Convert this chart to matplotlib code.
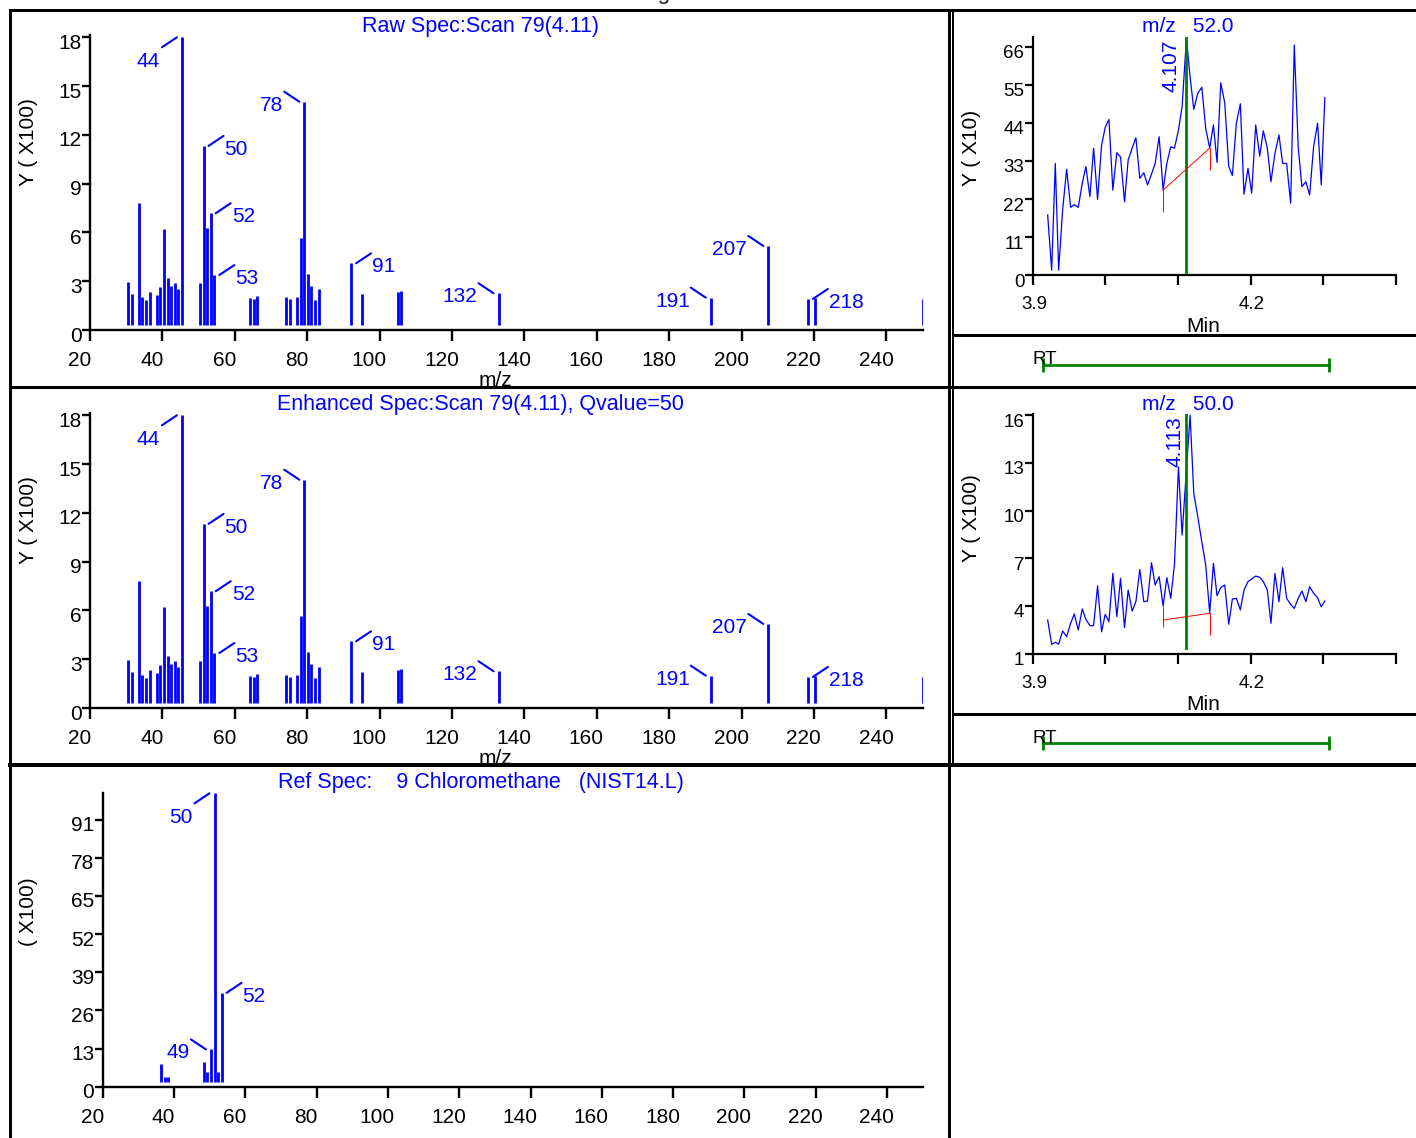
import numpy as np
import matplotlib
matplotlib.use("Agg")
import matplotlib.pyplot as plt
from matplotlib.lines import Line2D
from matplotlib.transforms import ScaledTranslation, offset_copy

W, H, DPI = 1416, 1138, 100
plt.rcParams['font.family'] = ['Liberation Sans', 'DejaVu Sans']

BLUE, GREEN, RED = '#0000ff', '#008000', '#ff0000'

# ---- mass spectra (intensity in units of x100) ----
raw_mz = [29, 30, 32, 33, 34, 35, 37, 38, 39, 40, 41, 42, 43, 44,
          49, 50, 51, 52, 53, 63, 64, 65, 73, 74, 76, 77, 78, 79, 80, 81, 82,
          91, 94, 104, 105, 132, 191, 207, 218, 220, 250]
raw_int = [2.93, 2.19, 7.79, 2.05, 1.85, 2.32, 2.17, 2.63, 6.23, 3.20, 2.71, 2.87, 2.54, 18.0,
           2.87, 11.32, 6.29, 7.18, 3.38, 1.99, 1.89, 2.07, 2.05, 1.91, 2.01, 5.64, 14.04, 3.44,
           2.71, 1.85, 2.50, 4.10, 2.21, 2.36, 2.40, 2.26, 1.99, 5.17, 1.91, 1.99, 1.89]
enh_mz = list(raw_mz)
enh_int = list(raw_int)
spec_labels = [44, 78, 50, 52, 53, 91, 132, 191, 207, 218]
spec_sides = ['dl', 'ul', 'ur', 'ur', 'ur', 'ur', 'ul', 'ul', 'ul', 'ur']

ref_mz = [35, 36, 37, 47, 48, 49, 50, 51, 52]
ref_int = [7.7, 3.4, 3.4, 8.5, 5.1, 12.7, 100.0, 5.1, 32.0]
ref_labels = [50, 52, 49]
ref_sides = ['dl', 'ur', 'ul']

mz_tick_labels = [20, 40, 60, 80, 100, 120, 140, 160, 180, 200, 220, 240]

# ---- mass chromatograms ----
times = [3.9206, 3.9261, 3.9311, 3.9357, 3.9412, 3.9467, 3.9522, 3.9572, 3.9627, 3.9682,
         3.9732, 3.9787, 3.9838, 3.9893, 3.9948, 3.9998, 4.0049, 4.0103, 4.0158, 4.0209,
         4.0264, 4.0314, 4.0369, 4.0420, 4.0474, 4.0529, 4.0580, 4.0635, 4.0685, 4.0740,
         4.0795, 4.0846, 4.0900, 4.0951, 4.1006, 4.1056, 4.1116, 4.1166, 4.1217, 4.1272,
         4.1327, 4.1381, 4.1436, 4.1487, 4.1537, 4.1588, 4.1643, 4.1698, 4.1748, 4.1803,
         4.1858, 4.1908, 4.1963, 4.2014, 4.2069, 4.2124, 4.2174, 4.2229, 4.2279, 4.2334,
         4.2389, 4.2440, 4.2495, 4.2550, 4.2600, 4.2655, 4.2705, 4.2760, 4.2811, 4.2866,
         4.2921, 4.2971, 4.3021]
mc52 = [17.4, 1.5, 32.3, 1.5, 18.9, 30.6, 19.6, 20.4, 19.6, 26.6,
        31.4, 22.7, 36.7, 21.9, 37.6, 42.7, 45.0, 24.6, 35.4, 34.1,
        21.2, 33.3, 36.7, 39.7, 28.0, 29.6, 26.1, 29.2, 32.3, 40.0,
        24.6, 32.3, 37.1, 36.7, 41.9, 48.7, 68.4, 57.3, 47.9, 52.5,
        54.3, 42.4, 36.7, 43.4, 32.6, 55.6, 49.8, 31.4, 28.8, 43.9,
        49.5, 23.4, 30.9, 23.7, 43.4, 34.4, 41.7, 36.7, 27.0, 35.2,
        40.5, 32.3, 32.3, 20.8, 66.5, 36.7, 25.6, 27.0, 23.2, 37.1,
        43.9, 26.1, 51.3]
mc50 = [3.12, 1.59, 1.72, 1.60, 2.43, 2.07, 2.91, 3.50, 2.49, 3.81,
        3.16, 2.76, 2.76, 5.26, 2.38, 3.48, 3.01, 6.05, 3.33, 5.74,
        2.63, 5.00, 3.68, 4.27, 6.30, 4.27, 4.31, 6.72, 5.32, 5.84,
        4.00, 5.78, 4.48, 6.60, 12.75, 8.46, 12.6, 16.0, 11.08, 9.61,
        8.04, 6.58, 3.54, 6.68, 4.65, 5.15, 5.32, 2.85, 4.44, 4.48,
        3.75, 5.00, 5.53, 5.70, 5.88, 5.80, 5.53, 5.00, 2.91, 6.05,
        4.27, 6.41, 4.48, 4.10, 3.85, 4.48, 4.94, 4.27, 5.21, 4.80,
        4.52, 3.95, 4.31]
# integration baseline: (start rt, start y, end rt, end y, start drop, end drop)
base52 = [4.0795, 24.6, 4.1436, 36.7, 18.4, 30.4]
base50 = [4.0795, 3.12, 4.1436, 3.54, 2.70, 2.18]
base50_top = 4.00
scan_rt = 4.111
rt_window = [3.9146, 4.3076]
peak_rt_text = ['4.107', '4.113']

fig = plt.figure(figsize=(W / DPI, H / DPI), dpi=DPI)


def fx(x):
    return x / W


def fy(y):
    return 1 - y / H


def box(x0, y0, x1, y1):
    return [fx(x0), fy(y1), (x1 - x0) / W, (y1 - y0) / H]


def frame(xs, ys, lw=3):
    fig.add_artist(Line2D([fx(v) for v in xs], [fy(v) for v in ys], color='black',
                          lw=lw * 72 / DPI, transform=fig.transFigure, zorder=10))


def shift_labels(ticks, dx, dy):
    for t in ticks:
        t.label1.set_transform(t.label1.get_transform() +
                               ScaledTranslation(dx / DPI, dy / DPI, fig.dpi_scale_trans))


# frames
frame([10, 1416], [9.5, 9.5])
frame([10, 10], [9.5, 1138])
frame([949, 949], [9.5, 1138])
frame([953, 953], [9.5, 764.5], lw=2)
frame([10, 1416], [386.5, 386.5])
frame([10, 1416], [764.5, 764.5], lw=4)
frame([953, 1416], [335, 335], lw=3)
frame([953, 1416], [713.5, 713.5], lw=3)

# page title, mostly above the visible area
fig.text(fx(650), fy(-0.5), 'Processing Result', ha='center', va='baseline',
         fontsize=16, color='#222222')

LEADER = {'ur': ((5, 0), (20, 10), (21, -9), 'left'),
          'ul': ((-5, 0), (-20, 10), (-21, -9), 'right'),
          'dl': ((-5, 0), (-20, -10), (-22, -30), 'right')}


def peak_label(ax, x, y, text, side):
    (x0, y0), (x1, y1), (tx, ty), ha = LEADER[side]
    tr = offset_copy(ax.transData, fig=fig, x=x0, y=y0, units='dots')
    ax.annotate('', xy=(x, y), xycoords=tr, xytext=(x1 - x0, y1 - y0),
                textcoords='offset pixels', annotation_clip=False,
                arrowprops=dict(arrowstyle='-', color=BLUE, lw=1.5, shrinkA=0, shrinkB=0))
    ax.annotate(text, xy=(x, y), xytext=(tx, ty), textcoords='offset pixels',
                ha=ha, va='baseline', color=BLUE, fontsize=15, annotation_clip=False)


def spectrum(rect, mz, inten, base, ytop, yticks, labels, sides, title, ylabel, ylab_y,
             mzlabel=None):
    ax = fig.add_axes(box(*rect))
    ax.vlines(mz, base, inten, color=BLUE, lw=2.0)
    ax.set_xlim(18.44, 250.0)
    ax.set_ylim(0, ytop)
    for s in ['top', 'right']:
        ax.spines[s].set_visible(False)
    for s in ['left', 'bottom']:
        ax.spines[s].set_linewidth(1.7)
    pos = [18.44 + (v - 20) * 1.0064 for v in mz_tick_labels]
    ax.set_xticks(pos, [str(v) for v in mz_tick_labels])
    ax.set_yticks(yticks, [str(v) for v in yticks])
    ax.tick_params(axis='x', length=8, width=1.7, pad=7, labelsize=15)
    ax.tick_params(axis='y', length=6, width=1.7, pad=0, labelsize=15)
    shift_labels(ax.xaxis.get_major_ticks(), -10.5, 0)
    shift_labels(ax.yaxis.get_major_ticks(), 0, -4)
    for m, sd in zip(labels, sides):
        peak_label(ax, m, inten[mz.index(m)], str(m), sd)
    fig.text(fx(480.5), fy(title[1]), title[0], ha='center', va='baseline',
             color=BLUE, fontsize=15.5)
    fig.text(fx(28.3), fy(ylab_y), ylabel, rotation=90, ha='center', va='center',
             fontsize=15)
    if mzlabel is not None:
        fig.text(fx(495), fy(mzlabel), 'm/z', ha='center', va='baseline', fontsize=15)
    return ax


spectrum((90, 35, 923, 330), raw_mz, raw_int, 0.3, 18.14, list(range(0, 19, 3)),
         spec_labels, spec_sides, ('Raw Spec:Scan 79(4.11)', 32.3), 'Y ( X100)', 141.7,
         mzlabel=386.5)
spectrum((90, 413, 923, 708), enh_mz, enh_int, 0.3, 18.14, list(range(0, 19, 3)),
         spec_labels, spec_sides, ('Enhanced Spec:Scan 79(4.11), Qvalue=50', 410.3),
         'Y ( X100)', 519.7, mzlabel=764.5)
spectrum((102.7, 793.3, 923, 1086.7), ref_mz, ref_int, 1.7, 100, list(range(0, 92, 13)),
         ref_labels, ref_sides, ('Ref Spec:    9 Chloromethane   (NIST14.L)', 788.3),
         '( X100)', 911.7)


def chromatogram(y0, y1, series, ylo, yhi, yticks, title_y, title, ylabel, ylab_y, min_y,
                 base, base_top, gl_lo, rt_text, rt_y):
    ax = fig.add_axes(box(1032.7, y0, 1396, y1))
    ax.plot(times, series, color=BLUE, lw=0.9)
    ax.set_xlim(3.9, 4.4)
    ax.set_ylim(ylo, yhi)
    for s in ['top', 'right']:
        ax.spines[s].set_visible(False)
    for s in ['left', 'bottom']:
        ax.spines[s].set_linewidth(1.6)
    ax.set_xticks([3.9, 4.0, 4.1, 4.2, 4.3, 4.4], ['3.9', '', '', '4.2', '', ''])
    ax.set_yticks(yticks, [str(v) for v in yticks])
    ax.tick_params(axis='x', length=7, width=1.6, pad=8, labelsize=13.5)
    ax.tick_params(axis='y', length=6, width=1.6, pad=0, labelsize=13.5)
    shift_labels(ax.xaxis.get_major_ticks(), 1.5, 0)
    shift_labels(ax.yaxis.get_major_ticks(), 0, -5)
    ax.axvline(scan_rt, ymin=gl_lo, ymax=1, color=GREEN, lw=2)
    ax.plot([base[0], base[2]], [base[1], base[3]], color=RED, lw=0.7)
    ax.vlines([base[0], base[2]], [base[4], base[5]], [base_top, base[3]], color=RED, lw=0.7)
    k = int(np.argmax(series))
    ax.annotate(rt_text, xy=(times[k], yhi), xytext=(-6, -2), textcoords='offset pixels',
                rotation=90, ha='right', va='top', color=BLUE, fontsize=15,
                annotation_clip=False)
    fig.text(fx(1187.8), fy(title_y), title, ha='center', va='baseline', color=BLUE,
             fontsize=15)
    fig.text(fx(971.7), fy(ylab_y), ylabel, rotation=90, ha='center', va='center',
             fontsize=15)
    fig.text(fx(1203.3), fy(min_y), 'Min', ha='center', va='baseline', fontsize=15)
    # RT range strip
    rax = fig.add_axes(box(1032.7, rt_y - 25, 1396, rt_y + 25))
    rax.set_xlim(3.9, 4.4)
    rax.set_ylim(0, 1)
    rax.axis('off')
    rax.plot(rt_window, [0.5, 0.5], color=GREEN, lw=2)
    rax.plot(rt_window, [0.5, 0.5], ls='none', marker='|', ms=10, mew=2, color=GREEN)
    fig.text(fx(1033), fy(rt_y - 5), 'RT', ha='left', va='center', fontsize=13.5)
    return ax


chromatogram(37.3, 275.3, mc52, 0, 68.7, list(range(0, 67, 11)), 31.7, 'm/z   52.0',
             'Y ( X10)', 147.5, 331.7, base52, base52[1], 0.015, peak_rt_text[0], 365)
chromatogram(414.3, 653.7, mc50, 1, 16.05, list(range(1, 17, 3)), 410, 'm/z   50.0',
             'Y ( X100)', 518.5, 710, base50, base50_top, 0.025, peak_rt_text[1], 743.3)

fig.savefig('out.png', dpi=DPI)
